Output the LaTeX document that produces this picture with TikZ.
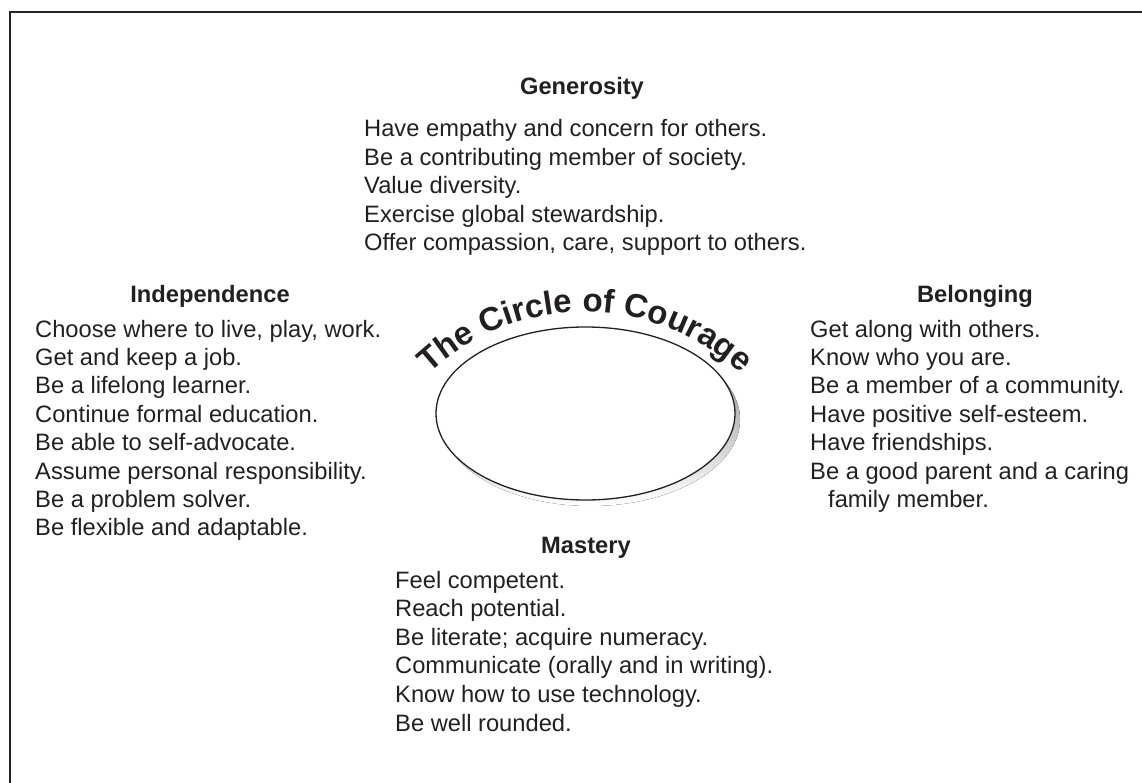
\documentclass[tikz,border=0pt]{standalone}
\usepackage{fontspec}
\setmainfont{Liberation Sans}
\usetikzlibrary{decorations.text}
\definecolor{ink}{HTML}{231F20}
\definecolor{shade}{HTML}{CCCCCC}
\begin{document}
\begin{tikzpicture}[x=1pt,y=-1pt,
  item/.style={anchor=base west, inner sep=0pt, text=ink,
    font=\fontsize{23.7}{28}\selectfont},
  head/.style={anchor=base, inner sep=0pt, text=ink,
    font=\fontsize{23.7}{28}\selectfont\bfseries},
  frame/.style={draw=black!85, line width=2pt},
  ring/.style={draw=ink, fill=white, line width=1.3pt}]
\useasboundingbox (0,0) rectangle (1142,783);

% page frame (left and top edges)
\draw[frame] (9.5,783) -- (9.5,12) -- (1142,12);

% the circle with its drop shadow
\coordinate (centre) at (585.5,413.5);
\fill[shade] ([shift={(5,6)}]centre) ellipse [x radius=149.5, y radius=86.5];
\draw[ring] (centre) ellipse [x radius=149.5, y radius=86.5];

% title set along an arc above the circle
\coordinate (arcstart) at (426.6,376.0);
\path[decorate, decoration={text along path, text align=center,
    text color=ink,
    text={|\fontsize{33}{33}\selectfont\bfseries|The Circle of Courage}}]
  (arcstart) arc [start angle=-134, end angle=-46, radius=228];

% Generosity
\node[head] (gen) at (582,95) {Generosity};
\foreach \t [count=\i from 0] in {
  Have empathy and concern for others.,
  Be a contributing member of society.,
  Value diversity.,
  Exercise global stewardship.,
  {Offer compassion, care, support to others.}}
  \node[item] (gen\i) at (364,137+28.4*\i) {\t};

% Independence
\node[head] (ind) at (210,302) {Independence};
\foreach \t [count=\i from 0] in {
  {Choose where to live, play, work.},
  Get and keep a job.,
  Be a lifelong learner.,
  Continue formal education.,
  Be able to self-advocate.,
  Assume personal responsibility.,
  Be a problem solver.,
  Be flexible and adaptable.}
  \node[item] (ind\i) at (35,337+28.4*\i) {\t};

% Belonging
\node[head] (bel) at (975,302) {Belonging};
\foreach \t [count=\i from 0] in {
  Get along with others.,
  Know who you are.,
  Be a member of a community.,
  Have positive self-esteem.,
  Have friendships.,
  Be a good parent and a caring}
  \node[item] (bel\i) at (810,337+28.4*\i) {\t};
\node[item] (bel6) at (828,337+28.4*6) {family member.};

% Mastery
\node[head] (mas) at (586,553) {Mastery};
\foreach \t [count=\i from 0] in {
  Feel competent.,
  Reach potential.,
  Be literate; acquire numeracy.,
  Communicate (orally and in writing).,
  Know how to use technology.,
  Be well rounded.}
  \node[item] (mas\i) at (395,588+28.6*\i) {\t};
\end{tikzpicture}
\end{document}
